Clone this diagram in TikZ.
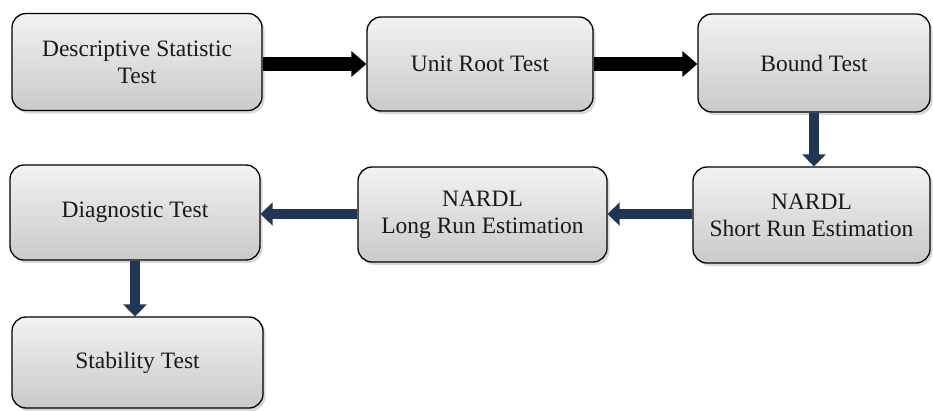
\documentclass[tikz,border=0pt]{standalone}
\usepackage{fontspec}
\setmainfont{Liberation Serif}
\usetikzlibrary{arrows.meta,shadows}
\definecolor{navy}{RGB}{31,54,84}
\definecolor{txt}{RGB}{25,25,25}
\tikzset{
  box/.style={draw=black, line width=1.3pt, rounded corners=14pt,
    top color=gray!10, bottom color=gray!42, align=center,
    text=txt, font=\fontsize{23.5}{27}\selectfont, inner sep=0pt,
    drop shadow={shadow xshift=2.5pt, shadow yshift=-3pt, opacity=0.3, fill=gray}},
  blackarrow/.style={draw=black, line width=14pt,
    -{Triangle[width=25pt,length=15pt]}},
  navyarrow/.style={draw=navy, line width=10pt,
    -{Triangle[width=23pt,length=12pt]}},
}
\begin{document}
\begin{tikzpicture}[x=1pt,y=-1pt]
\useasboundingbox (0,0) rectangle (933,410);
\node[box, minimum width=250pt, minimum height=97pt] (b1) at (137,62) {Descriptive Statistic\\Test};
\node[box, minimum width=226pt, minimum height=94pt] (b2) at (480,64) {Unit Root Test};
\node[box, minimum width=232pt, minimum height=98pt] (b3) at (814,63) {Bound Test};
\node[box, minimum width=237pt, minimum height=96pt] (b4) at (811.5,215) {NARDL\\Short Run Estimation};
\node[box, minimum width=249pt, minimum height=95pt] (b5) at (482.5,214.5) {NARDL\\Long Run Estimation};
\node[box, minimum width=250pt, minimum height=95pt] (b6) at (135,212.5) {Diagnostic Test};
\node[box, minimum width=251pt, minimum height=91pt] (b7) at (137.5,362.5) {Stability Test};
\coordinate (r1) at (0,64);
\coordinate (r2) at (0,214);
\draw[blackarrow] (b1.east |- r1) -- (b2.west |- r1);
\draw[blackarrow] (b2.east |- r1) -- (b3.west |- r1);
\draw[navyarrow] (b3.south) -- (b3.south |- b4.north);
\draw[navyarrow] (b4.west |- r2) -- (b5.east |- r2);
\draw[navyarrow] (b5.west |- r2) -- (b6.east |- r2);
\draw[navyarrow] (b6.south) -- (b6.south |- b7.north);
\end{tikzpicture}
\end{document}
